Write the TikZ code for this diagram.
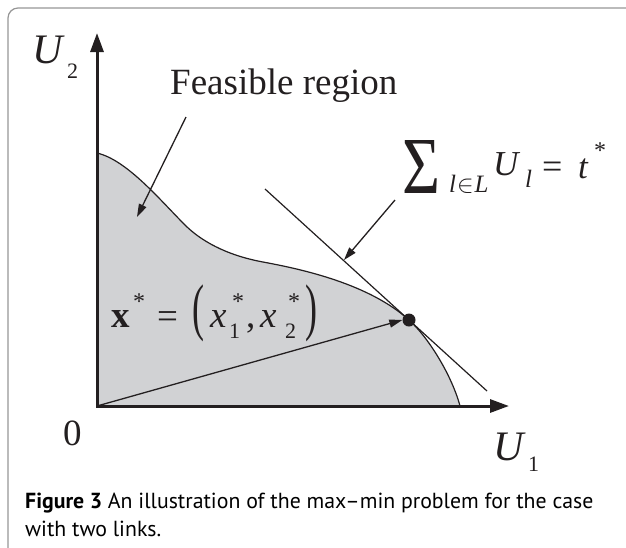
\documentclass[tikz,border=0pt]{standalone}
\usepackage{fontspec}
\usepackage{graphicx}
\setmainfont{Liberation Serif}
\newfontfamily\capfont{PT Sans}
\usetikzlibrary{arrows.meta}
\definecolor{regionfill}{RGB}{209,210,212}
\definecolor{framegray}{RGB}{150,150,150}
\definecolor{ink}{RGB}{35,31,32}
\begin{document}
\begin{tikzpicture}[x=1pt,y=-1pt,
  lbl/.style={inner sep=0pt, anchor=base west, text=ink},
  fs/.style={font=\fontsize{#1}{#1}\selectfont},
  thinarrow/.style={draw=ink, line width=1.3pt, -{Triangle[length=13pt,width=8pt]}},
  axisline/.style={draw=ink, line width=3pt, {Triangle[length=19pt,width=13pt]}-{Triangle[length=19pt,width=13pt]}},
  curveline/.style={draw=ink, line width=1.2pt}]
\useasboundingbox (0,0) rectangle (626,547);
% frame
\draw[framegray, line width=1.2pt, rounded corners=10pt] (8,548) -- (8,8) -- (627,8);
% coordinates
\coordinate (O) at (97,406);
\coordinate (ytip) at (97,33);
\coordinate (xtip) at (509,406);
\coordinate (c0) at (97,153);
\coordinate (c1) at (185,225);
\coordinate (c2) at (263,262);
\coordinate (P) at (409,320);
\coordinate (c4) at (460,406);
% region
\fill[regionfill] (O) -- (c0) .. controls (127,160) and (160,200) .. (c1)
  .. controls (200,240) and (225,255) .. (c2)
  .. controls (303,269.4) and (369,284) .. (P)
  .. controls (429,338) and (452,376) .. (c4) -- cycle;
\draw[curveline] (c0) .. controls (127,160) and (160,200) .. (c1)
  .. controls (200,240) and (225,255) .. (c2)
  .. controls (303,269.4) and (369,284) .. (P)
  .. controls (429,338) and (452,376) .. (c4);
% tangent line
\coordinate (t0) at (265,189);
\coordinate (t1) at (487,391);
\draw[draw=ink, line width=1.2pt] (t0) -- (t1);
% axes
\draw[axisline] (ytip) -- (O) -- (xtip);
% vector to optimum
\node[circle, fill=ink, inner sep=0pt, minimum size=13pt] (dot) at (P) {};
\draw[thinarrow] (O) -- (dot.west);
% label arrows
\coordinate (fa0) at (186,117);
\coordinate (fa1) at (137,217);
\draw[thinarrow] (fa0) -- (fa1);
\coordinate (sa0) at (395,200);
\coordinate (sa1) at (344,260);
\draw[thinarrow] (sa0) -- (sa1);
% axis labels
\node[lbl, fs=42] (U2) at (32,63) {\itshape U};
\node[lbl, fs=22] (U2s) at (67,78) {2};
\node[lbl, fs=42] (U1) at (493,460) {\itshape U};
\node[lbl, fs=22] (U1s) at (528,471) {1};
\node[lbl, fs=37] (zero) at (63,445) {0};
% feasible region
\node[lbl, fs=37] (feas) at (170,94) {Feasible region};
% sum formula
\node[inner sep=0pt, anchor=north west, text=ink] (sig) at (402,140) {\resizebox{38pt}{53pt}{Σ}};
\node[lbl, fs=25] (sub) at (449,192) {\itshape l\hspace{1pt}$\in$\hspace{1pt}L};
\node[lbl, fs=35] (Ul) at (493,175) {\itshape U};
\node[lbl, fs=25] (Uls) at (525,187) {\itshape l};
\node[lbl, fs=36] (eq1) at (542,178) {=};
\node[lbl, fs=35] (t) at (578,178) {\itshape t};
\node[lbl, fs=24] (tstar) at (594,158) {*};
% x* formula
\node[lbl, fs=37] (bx) at (111,327) {\bfseries x};
\node[lbl, fs=24] (bxs) at (133,309) {*};
\node[lbl, fs=37] (eq2) at (157,328) {=};
\node[inner sep=0pt, anchor=north west, text=ink] (lp) at (192,285) {\scalebox{1}[1.75]{\fontsize{36}{36}\selectfont (}};
\node[lbl, fs=37] (x1) at (210,327) {\itshape x};
\node[lbl, fs=22] (x1s) at (229,338) {1};
\node[lbl, fs=24] (x1st) at (232,309) {*};
\node[lbl, fs=37] (comma) at (246,327) {,};
\node[lbl, fs=37] (x2) at (260,327) {\itshape x};
\node[lbl, fs=22] (x2s) at (285,338) {2};
\node[lbl, fs=24] (x2st) at (288,309) {*};
\node[inner sep=0pt, anchor=north west, text=ink] (rp) at (305,285) {\scalebox{1}[1.75]{\fontsize{36}{36}\selectfont )}};
% caption
\node[lbl, text=black, font=\capfont\fontsize{21.8}{21.8}\selectfont] (cap1) at (25,508) {\textbf{Figure 3} An illustration of the max–min problem for the case};
\node[lbl, text=black, font=\capfont\fontsize{21.8}{21.8}\selectfont] (cap2) at (25,536) {with two links.};
\end{tikzpicture}
\end{document}
